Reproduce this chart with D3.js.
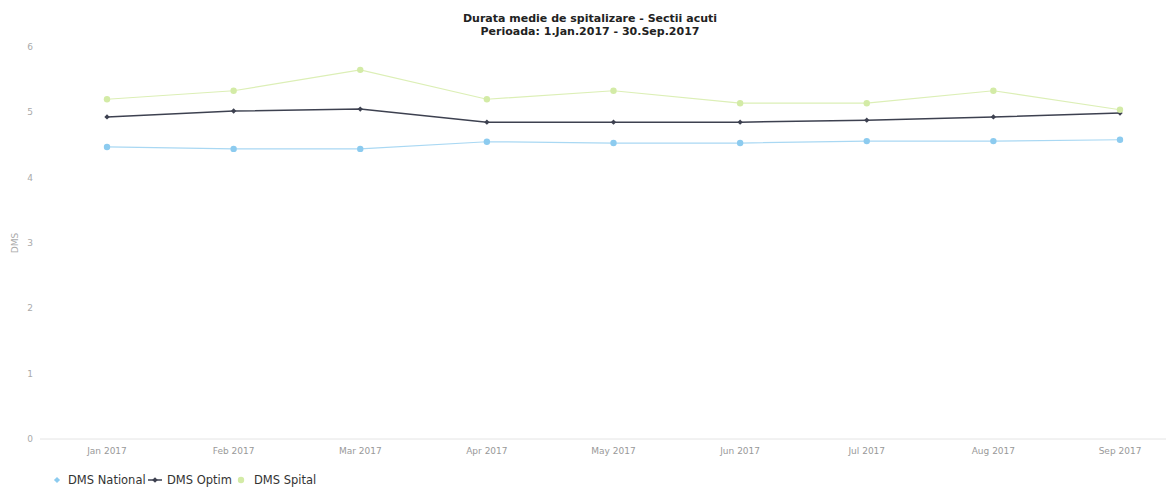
<!DOCTYPE html>
<html><head><meta charset="utf-8">
<script src="https://cdn.jsdelivr.net/npm/d3@7"></script>
<style>body{margin:0;background:#fff;}svg{display:block;font-family:"DejaVu Sans",sans-serif;}</style>
</head><body>
<svg id="c" width="1171" height="504"></svg>
<script>
const months = ["Jan 2017","Feb 2017","Mar 2017","Apr 2017","May 2017","Jun 2017","Jul 2017","Aug 2017","Sep 2017"];
const national = [4.47,4.44,4.44,4.55,4.53,4.53,4.56,4.56,4.58];
const optim    = [4.93,5.02,5.05,4.85,4.85,4.85,4.88,4.93,4.99];
const spital   = [5.20,5.33,5.65,5.20,5.33,5.14,5.14,5.33,5.04];
const yTicks = [0,1,2,3,4,5,6];
const seriesNames = ["DMS National","DMS Optim","DMS Spital"];
const colors = ["#8ccbef","#3d4150","#d3eba6"];
const lineColors = ["#a9d8f3","#3d4150","#dcefb6"];

const svg = d3.select("#c");
const x = d3.scalePoint().domain(months).range([107,1120]);
const y = d3.scaleLinear().domain([0,6]).range([439,47]);

svg.append("text").attr("x",590).attr("y",22).attr("text-anchor","middle")
  .attr("font-size",11).attr("font-weight","bold").attr("fill","#222").text("Durata medie de spitalizare - Sectii acuti");
svg.append("text").attr("x",590).attr("y",35).attr("text-anchor","middle")
  .attr("font-size",11).attr("font-weight","bold").attr("fill","#222").text("Perioada: 1.Jan.2017 - 30.Sep.2017");

// y axis labels
svg.append("g").selectAll("text").data(yTicks).join("text")
  .attr("x",33).attr("y",d=>y(d)+3).attr("text-anchor","end")
  .attr("font-size",9).attr("fill","#aaa").text(d=>d);
svg.append("text").attr("transform","translate(18,243) rotate(-90)").attr("text-anchor","middle")
  .attr("font-size",9).attr("fill","#aaa").text("DMS");

// x axis line
svg.append("line").attr("x1",40).attr("x2",1166).attr("y1",y(0)).attr("y2",y(0))
  .attr("stroke","#e4e4e4").attr("stroke-width",1);
svg.append("g").selectAll("text").data(months).join("text")
  .attr("x",d=>x(d)).attr("y",454).attr("text-anchor","middle")
  .attr("font-size",9).attr("fill","#999").text(d=>d);

const data = [national, optim, spital];
const line = d3.line().x((d,i)=>x(months[i])).y(d=>y(d));
data.forEach((vals,k)=>{
  const g = svg.append("g");
  g.append("path").attr("d",line(vals)).attr("fill","none")
    .attr("stroke",lineColors[k]).attr("stroke-width",k===1?1.5:1.2);
  if(k===1){
    g.selectAll("path.m").data(vals).join("path").attr("class","m")
      .attr("transform",(d,i)=>`translate(${x(months[i])},${y(d)})`)
      .attr("d",d3.symbol(d3.symbolDiamond2,18)).attr("fill",colors[k]);
  } else {
    g.selectAll("circle").data(vals).join("circle")
      .attr("cx",(d,i)=>x(months[i])).attr("cy",d=>y(d)).attr("r",3.2).attr("fill",colors[k]);
  }
});

// legend
const legX = [57,155,241];
const textX = [68,167,254];
seriesNames.forEach((n,k)=>{
  const lg = svg.append("g");
  if(k===1){
    lg.append("line").attr("x1",legX[k]-7).attr("x2",legX[k]+7).attr("y1",480).attr("y2",480)
      .attr("stroke",colors[k]).attr("stroke-width",1.5);
    lg.append("path").attr("transform",`translate(${legX[k]},480)`)
      .attr("d",d3.symbol(d3.symbolDiamond2,20)).attr("fill",colors[k]);
  } else if(k===0){
    lg.append("path").attr("transform",`translate(${legX[k]},480)`)
      .attr("d",d3.symbol(d3.symbolDiamond2,24)).attr("fill",colors[k]);
  } else {
    lg.append("circle").attr("cx",legX[k]).attr("cy",480).attr("r",3.2).attr("fill",colors[k]);
  }
  lg.append("text").attr("x",textX[k]).attr("y",484).attr("font-size",11.5)
    .attr("fill","#333").text(n);
});
</script>
</body></html>
